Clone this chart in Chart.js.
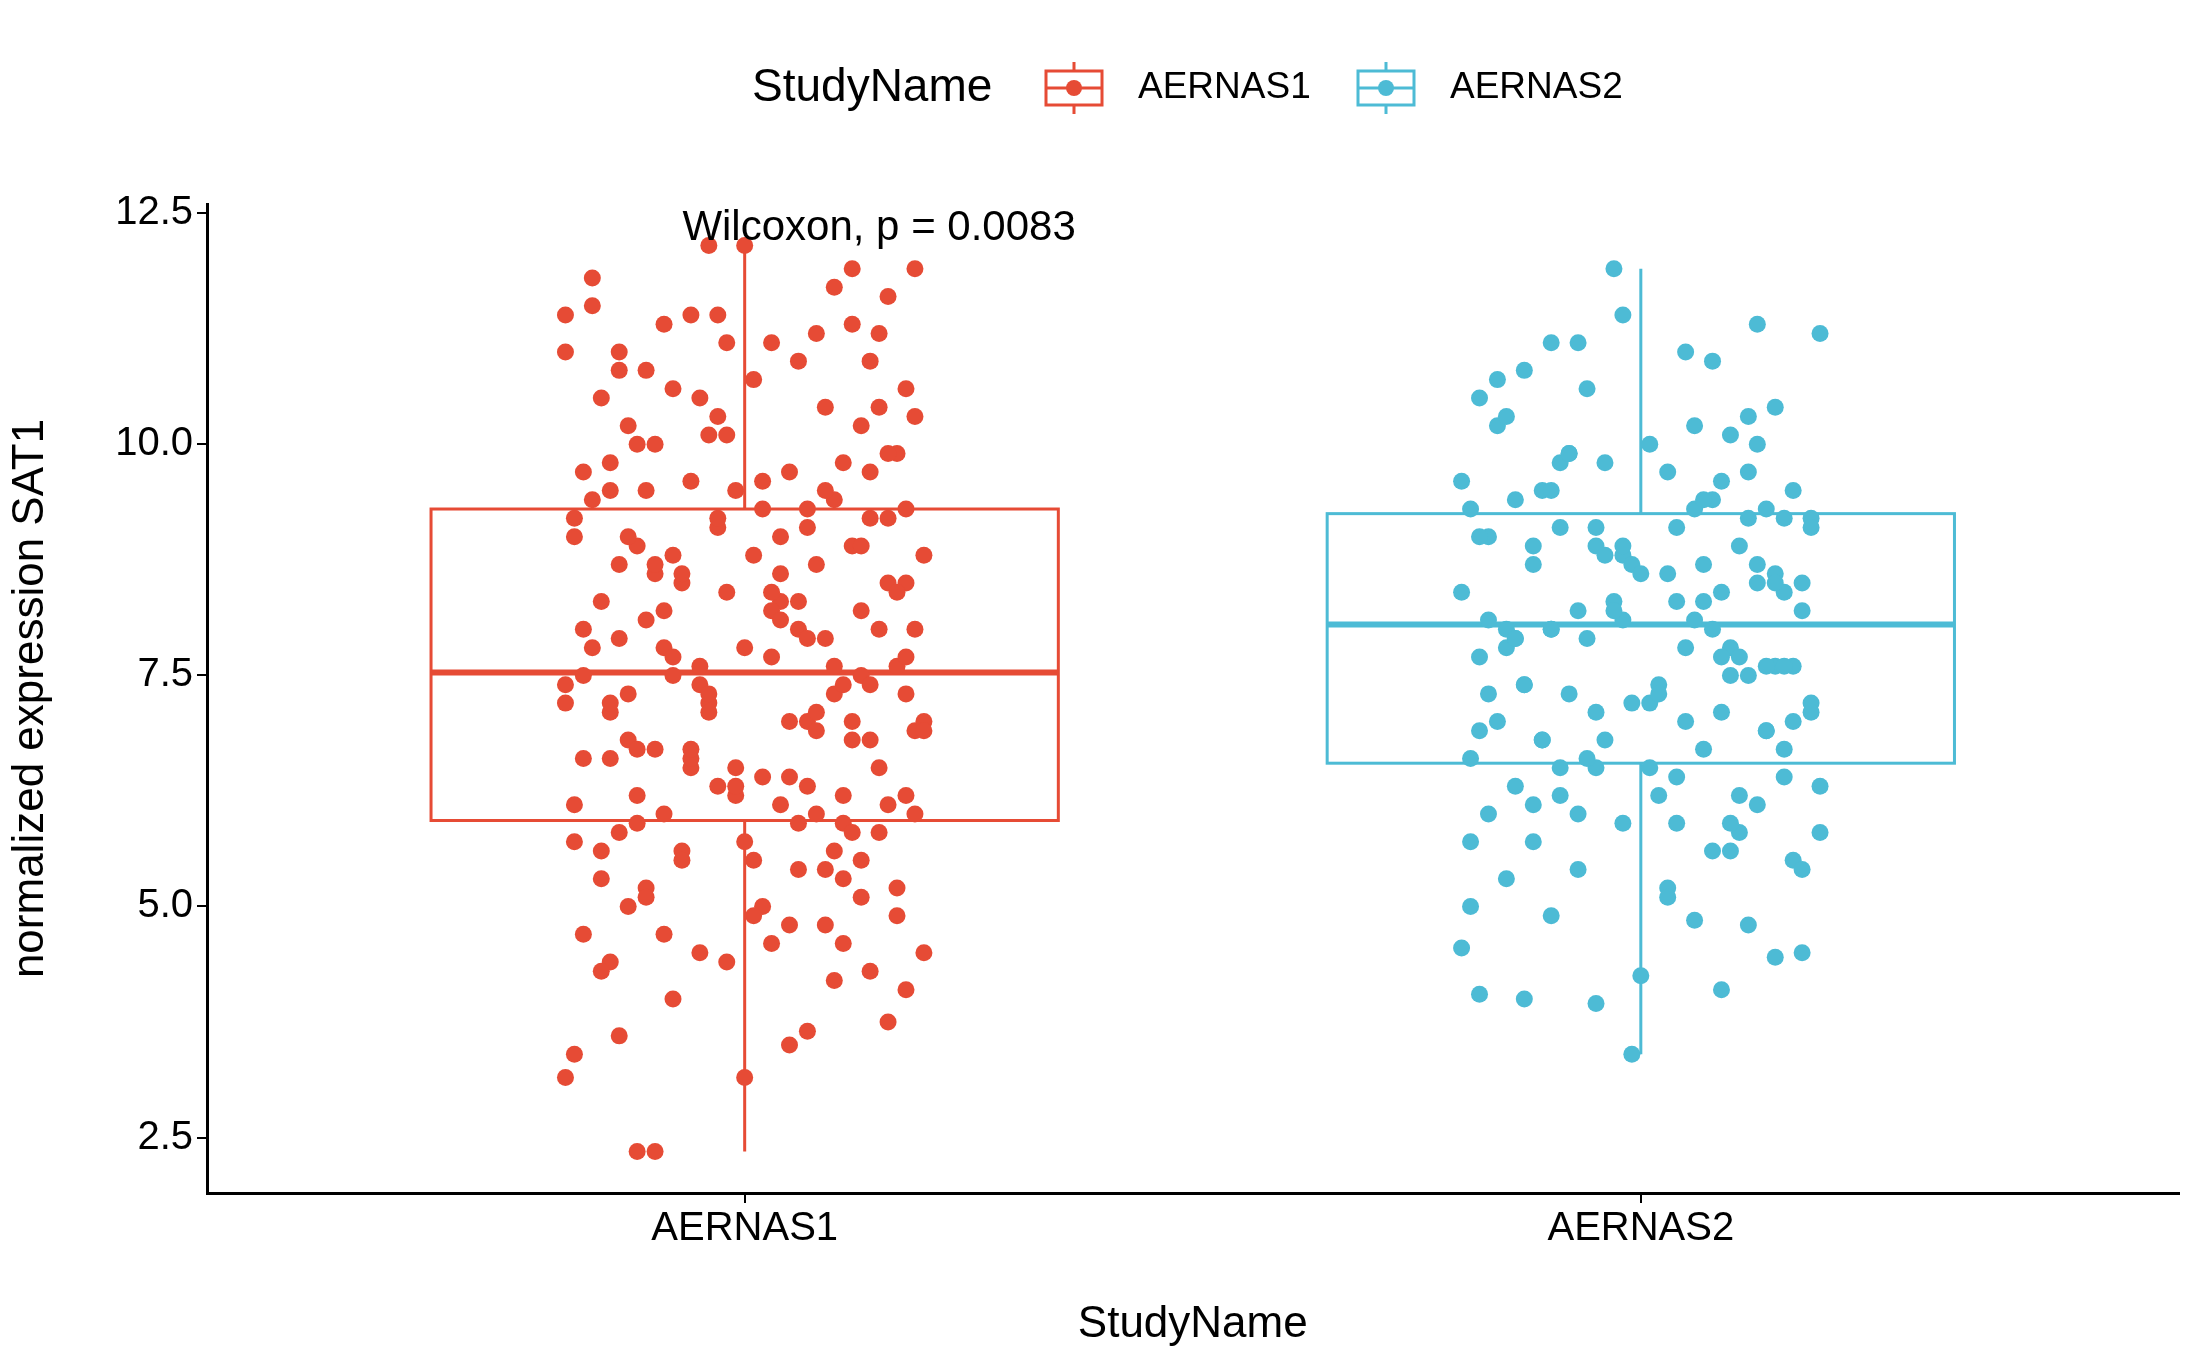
<!DOCTYPE html>
<html>
<head>
<meta charset="utf-8">
<script src="https://cdn.jsdelivr.net/npm/chart.js@4.4.1/dist/chart.umd.min.js"></script>
<style>
  html, body { margin: 0; padding: 0; background: #fff; }
  #wrap { width: 2187px; height: 1351px; }
</style>
</head>
<body>
<div id="wrap"><canvas id="chart"></canvas></div>
<script>
const categories = ['AERNAS1', 'AERNAS2'];
const colors = ['#E64B35', '#4DBBD5'];
const yTicks = [2.5, 5.0, 7.5, 10.0, 12.5];

// box stats: [whiskerLow, q1, median, q3, whiskerHigh]
const boxAERNAS1 = [2.35, 5.93, 7.53, 9.3, 12.15];
const boxAERNAS2 = [3.4, 6.55, 8.05, 9.25, 11.9];

// jittered points: horizontal offset from category, value
const dxAERNAS1 = [-0.12,-0.10,-0.20,0.00,-0.19,-0.14,0.05,0.07,-0.04,0.00,-0.17,0.12,0.19,-0.20,0.18,0.16,
  -0.15,-0.08,0.10,0.14,-0.18,-0.05,0.03,0.09,-0.13,0.17,-0.02,0.20,-0.11,0.06,-0.16,0.13,
  -0.07,0.01,0.15,-0.19,0.11,-0.09,0.04,-0.14,0.18,-0.03,0.08,-0.12,0.16,-0.06,0.02,-0.18,
  0.12,-0.10,0.19,-0.01,0.07,-0.15,0.14,-0.04,0.10,-0.20,0.05,-0.08,0.17,-0.13,0.03,0.11,
  -0.17,0.09,-0.05,0.15,-0.11,0.00,0.13,-0.16,0.06,-0.02,0.18,-0.09,0.04,-0.14,0.20,-0.07,
  0.12,-0.19,0.08,-0.03,0.16,-0.12,0.02,0.10,-0.15,0.14,-0.06,0.07,-0.18,0.11,-0.01,0.17,
  -0.10,0.05,-0.13,0.19,-0.04,0.09,-0.16,0.13,-0.08,0.01,0.15,-0.11,0.06,-0.20,0.18,-0.02,
  0.08,-0.14,0.12,-0.06,0.03,-0.17,0.16,-0.09,0.10,-0.03,0.14,-0.12,0.04,0.19,-0.15,0.07,
  -0.09,0.02,0.11,-0.16,0.06,-0.01,0.15,-0.13,0.08,-0.05,0.18,-0.18,0.04,-0.10,0.13,-0.03,
  0.09,-0.15,0.01,0.17,-0.07,0.12,-0.19,0.05,-0.12,0.20,-0.04,0.10,-0.14,0.03,0.16,-0.08,
  0.07,-0.17,0.14,-0.02,0.11,-0.11,0.00,0.19,-0.06,0.08,-0.20,0.13,-0.09,0.04,0.17,-0.13,
  0.02,-0.05,0.15,-0.16,0.09,-0.01,0.12,-0.18,0.06,-0.10,0.18,-0.03,0.10,-0.15,0.14,-0.07,
  0.05,-0.12,0.20,-0.08,0.01,0.16,-0.14,0.11,-0.04,0.07,-0.19,0.13,-0.06,0.03,-0.11,0.18];
const yAERNAS1 = [2.35,2.35,3.15,3.15,3.4,3.6,3.5,3.65,12.15,12.15,11.8,11.9,11.9,11.4,4.1,3.75,
  4.4,4.0,4.2,4.3,4.7,4.5,4.6,4.8,5.0,4.9,4.4,4.5,5.2,5.4,5.3,5.1,
  5.6,5.5,5.8,5.7,5.9,6.0,6.1,5.8,6.2,6.3,6.0,6.2,6.1,6.5,6.4,6.6,
  6.8,6.7,6.9,6.5,7.0,7.1,6.8,7.2,7.3,7.4,7.0,7.5,7.6,7.3,7.7,7.4,
  7.8,7.9,7.6,8.0,8.1,7.8,8.2,8.3,8.0,8.4,8.5,8.2,8.6,8.7,8.8,8.5,
  8.9,9.0,8.7,9.1,9.2,8.9,9.3,9.4,9.5,9.2,9.6,9.3,9.7,9.8,9.5,9.9,
  10.0,9.7,10.2,10.3,10.1,10.4,10.5,10.2,10.6,10.7,10.4,10.8,10.9,11.0,10.6,11.1,
  11.2,11.0,11.3,11.4,11.1,11.5,11.6,11.3,11.7,11.4,10.9,10.0,9.0,8.0,7.2,6.3,
  4.7,5.0,5.3,5.6,5.9,6.2,6.5,6.8,7.1,7.4,7.7,8.0,8.3,8.6,8.9,9.2,
  9.5,9.8,4.9,5.2,5.5,5.8,6.1,6.4,6.7,7.0,7.3,7.6,7.9,8.2,8.5,8.8,
  9.1,9.4,9.7,10.1,4.6,5.1,5.7,6.0,6.6,6.9,7.2,7.5,7.8,8.1,8.4,9.0,
  9.6,10.5,11.2,4.3,5.4,6.3,7.0,7.5,8.3,8.7,9.3,10.3,5.6,6.6,7.4,8.6,
  4.8,5.9,6.9,7.7,8.8,9.9,10.8,6.2,7.1,7.9,9.2,5.5,6.7,8.4,9.5,7.3];

const dxAERNAS2 = [-0.01,-0.03,-0.20,-0.18,-0.13,-0.05,0.00,0.09,0.18,0.15,-0.19,0.12,-0.10,0.06,-0.15,0.03,
  0.17,-0.07,0.10,-0.12,0.20,-0.02,0.08,-0.17,0.13,-0.09,0.04,-0.14,0.16,-0.05,0.11,-0.19,
  0.07,-0.11,0.01,0.14,-0.16,0.09,-0.04,0.19,-0.08,0.05,-0.13,0.12,-0.01,0.17,-0.18,0.02,
  0.10,-0.06,0.15,-0.10,0.06,-0.15,0.18,-0.03,0.08,-0.20,0.13,-0.07,0.03,-0.12,0.16,-0.02,
  0.11,-0.17,0.07,-0.09,0.19,-0.05,0.14,-0.14,0.04,-0.11,0.09,-0.19,0.12,-0.04,0.17,-0.08,
  0.01,-0.16,0.15,-0.06,0.10,-0.13,0.05,-0.18,0.20,-0.02,0.08,-0.10,0.13,-0.15,0.03,0.16,
  -0.07,0.04,0.14,-0.17,0.09,-0.02,0.18,-0.12,0.06,-0.09,0.12,-0.19,0.02,0.16,-0.05,0.10,
  -0.14,0.07,-0.01,0.19,-0.10,0.13,-0.16,0.03,0.11,-0.06,0.17,-0.13,0.05,-0.03,0.15,-0.18,
  0.08,-0.08,0.20,-0.11,0.01,0.14,-0.15,0.09,-0.04,0.12,-0.20,0.06,-0.07,0.18,-0.12,0.02,
  0.11,-0.17,0.15,-0.02,0.07,-0.09,0.19,-0.14,0.04,0.13,-0.05,0.10,-0.18,0.16,-0.10,0.00];
const yAERNAS2 = [3.4,11.9,4.55,4.05,4.0,3.95,4.25,4.1,4.5,4.45,5.0,4.8,4.9,4.85,5.3,5.2,
  5.5,5.4,5.6,5.7,5.8,5.9,5.6,6.0,6.1,6.2,5.9,6.3,6.4,6.5,6.2,6.6,
  6.7,6.8,6.5,6.9,7.0,7.1,6.8,7.2,7.3,7.0,7.4,7.5,7.2,7.6,7.7,7.4,
  7.8,7.9,7.6,8.0,8.1,7.8,8.2,8.3,8.0,8.4,8.5,8.2,8.6,8.7,8.4,8.8,
  8.9,9.0,8.7,9.1,9.2,8.9,9.3,9.4,9.1,9.5,9.6,9.3,9.7,9.8,9.5,9.9,
  10.0,10.2,10.4,10.6,10.1,10.8,11.0,10.5,11.2,11.4,10.9,11.1,11.3,10.3,9.7,9.2,
  6.0,6.4,6.9,7.3,7.7,8.1,8.5,8.9,9.3,9.8,10.3,5.7,6.2,6.7,7.1,7.5,
  7.9,8.3,8.7,9.1,9.5,10.0,10.7,5.1,5.8,6.6,7.0,7.4,7.8,8.2,8.6,9.0,
  9.4,9.9,6.3,6.8,7.2,7.6,8.0,8.4,8.8,9.2,9.6,10.2,11.1,5.4,6.1,7.3,
  7.7,8.1,8.5,8.9,9.4,6.5,7.1,7.9,8.3,8.7,9.1,5.9,6.9,7.6,8.0,8.6];

const makePoints = (center, dx, ys) => ys.map((y, i) => ({ x: center + dx[i], y }));

const FONT = '"Liberation Sans", Arial, sans-serif';

const boxPlugin = {
  id: 'boxes',
  beforeDatasetsDraw(chart) {
    const { ctx, scales: { x, y } } = chart;
    [boxAERNAS1, boxAERNAS2].forEach((b, i) => {
      const c = i + 1;
      const l = x.getPixelForValue(c - 0.35), r = x.getPixelForValue(c + 0.35);
      const cx = x.getPixelForValue(c);
      ctx.save();
      ctx.strokeStyle = colors[i];
      ctx.lineWidth = 3;
      ctx.beginPath();
      ctx.moveTo(cx, y.getPixelForValue(b[0])); ctx.lineTo(cx, y.getPixelForValue(b[1]));
      ctx.moveTo(cx, y.getPixelForValue(b[3])); ctx.lineTo(cx, y.getPixelForValue(b[4]));
      ctx.stroke();
      ctx.strokeRect(l, y.getPixelForValue(b[3]), r - l, y.getPixelForValue(b[1]) - y.getPixelForValue(b[3]));
      ctx.lineWidth = 6;
      ctx.beginPath();
      ctx.moveTo(l, y.getPixelForValue(b[2])); ctx.lineTo(r, y.getPixelForValue(b[2]));
      ctx.stroke();
      ctx.restore();
    });
  },
  afterDraw(chart) {
    const { ctx, scales: { x, y } } = chart;
    ctx.save();
    ctx.fillStyle = '#000';
    ctx.font = '42px ' + FONT;
    ctx.textAlign = 'center';
    ctx.textBaseline = 'middle';
    ctx.fillText('Wilcoxon, p = 0.0083', x.getPixelForValue(1.15), y.getPixelForValue(12.34));
    // legend
    const ly = 88;
    ctx.font = '46px ' + FONT;
    ctx.textAlign = 'left';
    ctx.fillText('StudyName', 752, ly);
    const items = [[1046, 'AERNAS1'], [1358, 'AERNAS2']];
    items.forEach(([lx, label], i) => {
      ctx.strokeStyle = colors[i];
      ctx.fillStyle = colors[i];
      ctx.lineWidth = 3;
      ctx.strokeRect(lx, ly - 17, 56, 34);
      ctx.beginPath();
      ctx.moveTo(lx + 28, ly - 26); ctx.lineTo(lx + 28, ly - 17);
      ctx.moveTo(lx + 28, ly + 17); ctx.lineTo(lx + 28, ly + 26);
      ctx.moveTo(lx, ly); ctx.lineTo(lx + 56, ly);
      ctx.stroke();
      ctx.beginPath();
      ctx.arc(lx + 28, ly, 8, 0, Math.PI * 2);
      ctx.fill();
      ctx.fillStyle = '#000';
      ctx.font = '37px ' + FONT;
      ctx.fillText(label, lx + 92, ly);
    });
    ctx.restore();
  }
};

new Chart(document.getElementById('chart'), {
  type: 'scatter',
  data: {
    datasets: [
      { data: makePoints(1, dxAERNAS1, yAERNAS1), backgroundColor: colors[0], borderWidth: 0, pointRadius: 8.5 },
      { data: makePoints(2, dxAERNAS2, yAERNAS2), backgroundColor: colors[1], borderWidth: 0, pointRadius: 8.5 }
    ]
  },
  options: {
    responsive: true,
    maintainAspectRatio: false,
    animation: false,
    layout: { padding: { top: 204, right: 6 } },
    plugins: { legend: { display: false }, tooltip: { enabled: false } },
    scales: {
      x: {
        type: 'linear', min: 0.4, max: 2.6,
        afterBuildTicks: s => { s.ticks = [{ value: 1 }, { value: 2 }]; },
        afterFit: s => { s.height = 158; },
        grid: { drawOnChartArea: false, drawTicks: true, tickLength: 10, color: '#000', lineWidth: 2 },
        border: { color: '#000', width: 3 },
        ticks: { color: '#000', padding: 2, font: { family: FONT, size: 40 }, callback: v => categories[v - 1] },
        title: { display: true, text: 'StudyName', color: '#000', font: { family: FONT, size: 44 }, padding: { top: 0, bottom: 0 } }
      },
      y: {
        min: 1.9, max: 12.6,
        afterBuildTicks: s => { s.ticks = yTicks.map(v => ({ value: v })); },
        afterFit: s => { s.width = 207; },
        grid: { drawOnChartArea: false, drawTicks: true, tickLength: 10, color: '#000', lineWidth: 2 },
        border: { color: '#000', width: 3 },
        ticks: { color: '#000', padding: 4, font: { family: FONT, size: 40 }, callback: v => v.toFixed(1) },
        title: { display: true, text: 'normalized expression SAT1', color: '#000', font: { family: FONT, size: 44 } }
      }
    }
  },
  plugins: [boxPlugin]
});
</script>
</body>
</html>
